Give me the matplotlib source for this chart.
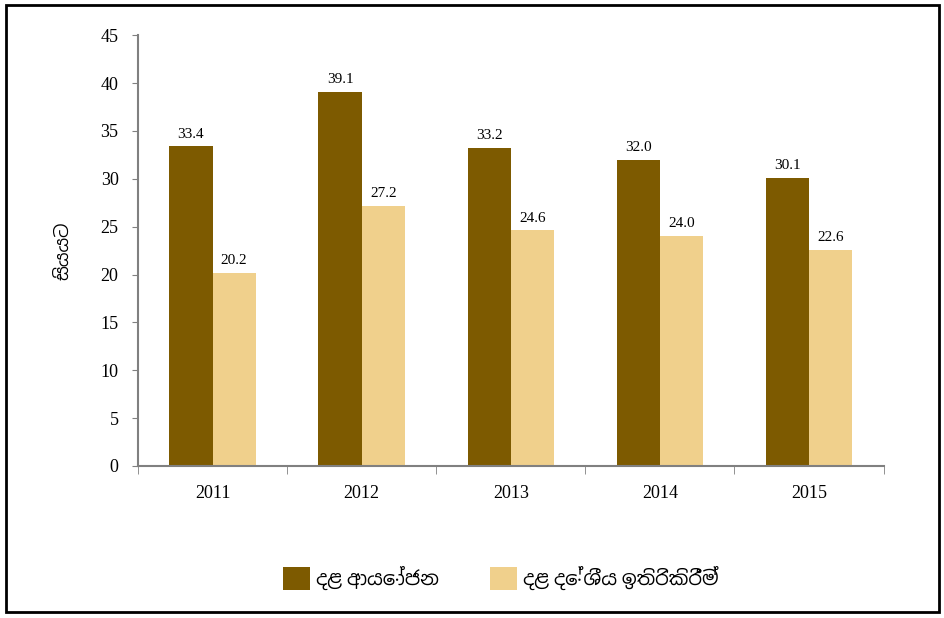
import matplotlib
matplotlib.use('Agg')
import matplotlib.pyplot as plt
from matplotlib.patches import Rectangle
import numpy as np

years = ['2011', '2012', '2013', '2014', '2015']
investment = [33.4, 39.1, 33.2, 32.0, 30.1]
savings = [20.2, 27.2, 24.6, 24.0, 22.6]
labels = ['දළ ආයෝජන', 'දළ දේශීය ඉතිරිකිරීම්']
ylabel = 'සියයට'

plt.rcParams['font.family'] = ['Liberation Serif', 'Noto Sans Sinhala', 'DejaVu Sans']

fig = plt.figure(figsize=(9.45, 6.18), dpi=100)
ax = fig.add_axes([0.146, 0.246, 0.789, 0.697])

x = np.arange(len(years))
w = 0.29
dark = '#7D5A00'
light = '#F0D08C'
b1 = ax.bar(x - w / 2, investment, w, color=dark, label=labels[0])
b2 = ax.bar(x + w / 2, savings, w, color=light, label=labels[1])

for bars, vals in ((b1, investment), (b2, savings)):
    for b, v in zip(bars, vals):
        ax.text(b.get_x() + b.get_width() / 2, v + 0.6, f'{v:.1f}',
                ha='center', va='bottom', fontsize=11)

ax.set_xlim(-0.5, len(years) - 0.5)
ax.set_ylim(0, 45)
ax.set_yticks(range(0, 46, 5))
ax.set_xticks(x)
ax.set_xticklabels(years, fontsize=13)
ax.tick_params(axis='x', length=0, pad=14)
ax.set_xticks(np.arange(-0.5, len(years)), minor=True)
ax.tick_params(axis='x', which='minor', length=6, direction='out', color='#808080')
ax.tick_params(axis='y', labelsize=13, length=4, color='#808080', pad=10)
ax.set_ylabel(ylabel, fontsize=13, labelpad=20)

for s in ('top', 'right'):
    ax.spines[s].set_visible(False)
for s in ('left', 'bottom'):
    ax.spines[s].set_color('#808080')
    ax.spines[s].set_linewidth(1.5)

fig.legend(handles=[b1, b2], loc='center', bbox_to_anchor=(0.53, 0.065),
           ncol=2, frameon=False, fontsize=14, handlelength=1.4,
           handleheight=1.4, columnspacing=2.6, handletextpad=0.3)

fig.patches.append(Rectangle((0.006, 0.01), 0.988, 0.982, transform=fig.transFigure,
                             fill=False, edgecolor='black', linewidth=2))

fig.savefig('out.png', dpi=100)
